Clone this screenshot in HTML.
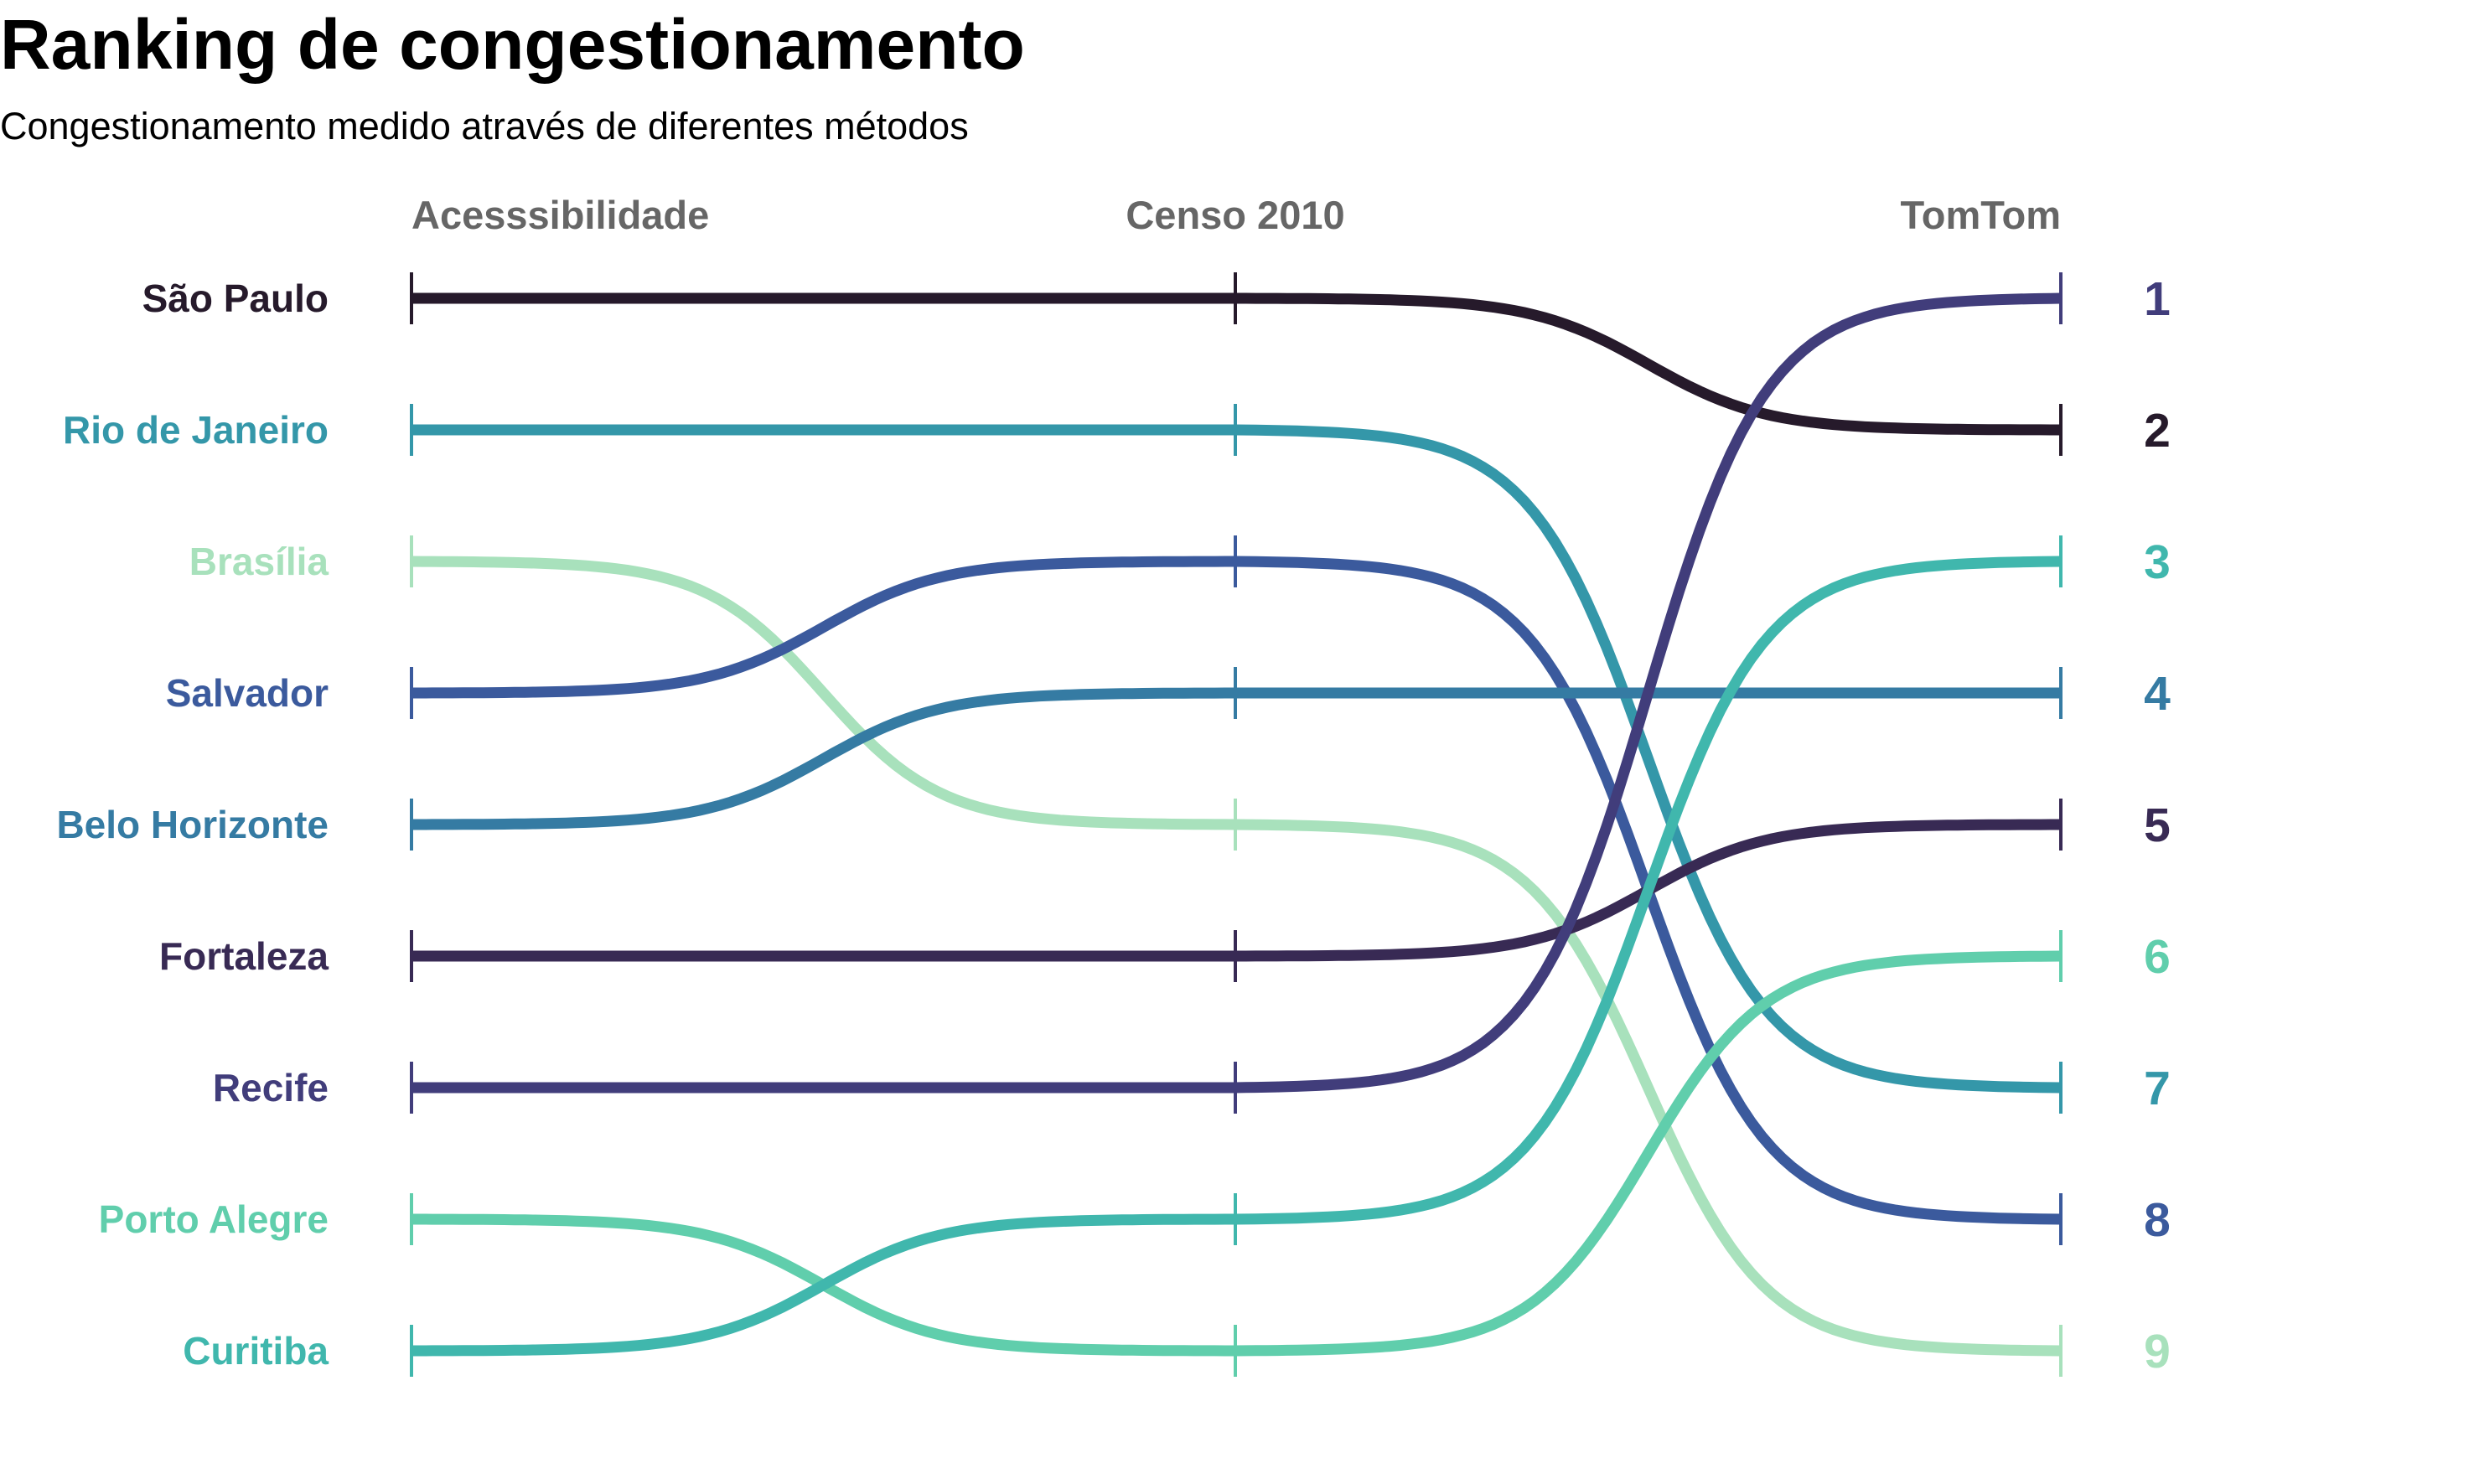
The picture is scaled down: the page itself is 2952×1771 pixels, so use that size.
<!DOCTYPE html>
<html><head><meta charset="utf-8">
<style>
html,body{margin:0;padding:0;background:#fff;}
svg{display:block;font-family:"Liberation Sans",Arial,sans-serif;}
</style></head>
<body>
<svg id="chart" width="2952" height="1771" viewBox="0 0 2952 1771">
<text x="0" y="82" font-size="84" font-weight="bold" fill="#000">Ranking de congestionamento</text>
<text x="0" y="166" font-size="45" fill="#000">Congestionamento medido através de diferentes métodos</text>
<g id="marks"></g>
</svg>
<script>
const cities = ["São Paulo","Rio de Janeiro","Brasília","Salvador","Belo Horizonte","Fortaleza","Recife","Porto Alegre","Curitiba"];
const rankAcess = [1,2,3,4,5,6,7,8,9];
const rankCenso = [1,2,5,3,4,6,7,9,8];
const rankTomTom = [2,7,9,8,4,5,1,6,3];
const colors = ["#261a2b","#3497a9","#a8e1bc","#3b5a9d","#357ba3","#382a54","#413d7b","#60ceac","#40b7ad"];
const methods = ["Acesssibilidade","Censo 2010","TomTom"];

const NS = "http://www.w3.org/2000/svg";
const g = document.getElementById("marks");
const axisX = [491, 1474, 2459];
function yOf(r){ return 356 + (r-1)*157; }
function mk(tag, attrs){ const e=document.createElementNS(NS,tag); for(const k in attrs) e.setAttribute(k,attrs[k]); return e; }

const anchors = ["start","middle","end"];
methods.forEach((m,i)=>{
  const t = mk("text",{x:axisX[i],y:273,"font-size":47,"font-weight":"bold",fill:"#666","text-anchor":anchors[i]});
  t.textContent = m;
  
  
  g.appendChild(t);
});

function sig(t){ const k=14; const s=v=>1/(1+Math.exp(-k*(v-0.5))); return (s(t)-s(0))/(s(1)-s(0)); }
function seg(x1,y1,x2,y2){
  let d="";
  const n=80;
  for(let i=1;i<=n;i++){ const t=i/n; d+=" L"+(x1+(x2-x1)*t).toFixed(1)+","+(y1+(y2-y1)*sig(t)).toFixed(1); }
  return d;
}

cities.forEach((c,i)=>{
  const ranks=[rankAcess[i],rankCenso[i],rankTomTom[i]];
  let d="M"+axisX[0]+","+yOf(ranks[0]);
  for(let j=0;j<2;j++) d+=seg(axisX[j],yOf(ranks[j]),axisX[j+1],yOf(ranks[j+1]));
  const p=mk("path",{d:d,fill:"none",stroke:colors[i],"stroke-width":13});
  
  
  g.appendChild(p);
  ranks.forEach((r,j)=>{
    const tk=mk("line",{x1:axisX[j],x2:axisX[j],y1:yOf(r)-31,y2:yOf(r)+31,stroke:colors[i],"stroke-width":4});
    
    
    g.appendChild(tk);
  });
  const lb=mk("text",{x:392,y:yOf(ranks[0])+16,"font-size":46,"font-weight":"bold",fill:colors[i],"text-anchor":"end"});
  lb.textContent=c;
  
  
  g.appendChild(lb);
  const rn=mk("text",{x:2574,y:yOf(ranks[2])+20,"font-size":57,"font-weight":"bold",fill:colors[i],"text-anchor":"middle"});
  rn.textContent=String(ranks[2]);
  
  
  g.appendChild(rn);
});
</script>
</body></html>
